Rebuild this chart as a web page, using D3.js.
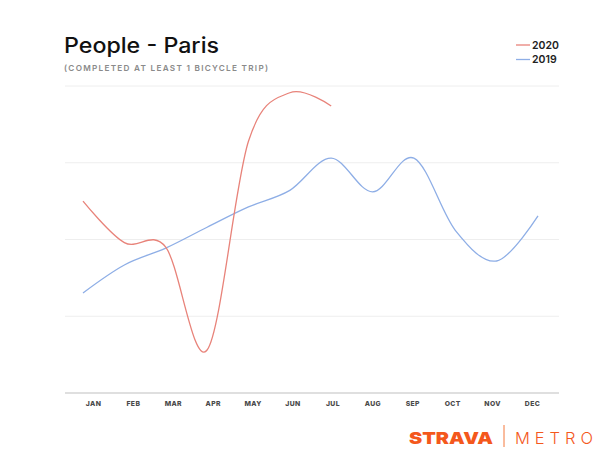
<!DOCTYPE html>
<html>
<head>
<meta charset="utf-8">
<script src="https://cdn.jsdelivr.net/npm/d3@7"></script>
<style>
  html, body { margin: 0; padding: 0; background: #fff; }
  svg { display: block; }
</style>
</head>
<body>
<svg id="chart" width="597" height="462"></svg>
<script>
const months = ["JAN","FEB","MAR","APR","MAY","JUN","JUL","AUG","SEP","OCT","NOV","DEC"];
const series2020 = [62.5, 49.0, 47.5, 14.0, 82.0, 97.8, 93.5];
const series2019 = [32.6, 41.7, 47.2, 54.0, 60.6, 66.0, 76.5, 65.5, 76.5, 53.0, 43.0, 57.7];
const gridTicks = [0, 25, 50, 75, 100];
const legendLabels = ["2020", "2019"];
const title = "People - Paris";
const subtitle = "(COMPLETED AT LEAST 1 BICYCLE TRIP)";

const svg = d3.select("#chart");
const colors = { "2020": "#e8837a", "2019": "#8eaee6" };
const FONT = "Inter, 'DejaVu Sans', sans-serif";

const xData = d3.scalePoint().domain(months).range([83, 538]);
const xLabel = d3.scalePoint().domain(months).range([93, 532]);
const y = d3.scaleLinear().domain([0, 100]).range([393, 86]);

// gridlines
svg.append("g").selectAll("line").data(gridTicks).join("line")
  .attr("x1", 65).attr("x2", 559)
  .attr("y1", d => y(d)).attr("y2", d => y(d))
  .attr("stroke", d => d === 0 ? "#d4d4d4" : "#eeeeee")
  .attr("stroke-width", d => d === 0 ? 1.5 : 1);

// x axis labels
const xAxis = d3.axisBottom(xLabel).tickSize(0).tickPadding(0);
const gx = svg.append("g").attr("transform", "translate(0,401)").call(xAxis);
gx.select(".domain").remove();
gx.selectAll("text")
  .attr("font-family", FONT)
  .attr("font-size", 6.8).attr("font-weight", 800)
  .attr("fill", "#4a4a4a").attr("letter-spacing", 0.4);

const line = d3.line()
  .x((d, i) => xData(months[i]))
  .y(d => y(d))
  .curve(d3.curveCardinal.tension(0));

svg.append("path").datum(series2019)
  .attr("d", line).attr("fill", "none")
  .attr("stroke", colors["2019"]).attr("stroke-width", 1.3);
svg.append("path").datum(series2020)
  .attr("d", line).attr("fill", "none")
  .attr("stroke", colors["2020"]).attr("stroke-width", 1.3);

// title
svg.append("text").attr("x", 64).attr("y", 53)
  .attr("font-family", FONT)
  .attr("font-size", 21).attr("font-weight", 500).attr("fill", "#111")
  .attr("textLength", 155).attr("lengthAdjust", "spacingAndGlyphs")
  .text(title);
svg.append("text").attr("x", 64).attr("y", 71)
  .attr("font-family", FONT)
  .attr("font-size", 8.2).attr("font-weight", 600).attr("fill", "#8a8a8a")
  .attr("textLength", 204).attr("lengthAdjust", "spacing")
  .text(subtitle);

// legend
const lg = svg.append("g");
legendLabels.forEach((lab, i) => {
  const yy = 45 + i * 14.5;
  lg.append("line").attr("x1", 516).attr("x2", 530).attr("y1", yy).attr("y2", yy)
    .attr("stroke", colors[lab]).attr("stroke-width", 1.3);
  lg.append("text").attr("x", 532).attr("y", yy + 3.8)
    .attr("font-family", FONT)
    .attr("font-size", 10.5).attr("font-weight", 600).attr("fill", "#222")
    .text(lab);
});

// logo
svg.append("text").attr("x", 409).attr("y", 444)
  .attr("font-family", FONT)
  .attr("font-size", 16.5).attr("font-weight", 900).attr("fill", "#f4581c")
  .attr("textLength", 84).attr("lengthAdjust", "spacingAndGlyphs")
  .text("STRAVA");
svg.append("line").attr("x1", 504).attr("x2", 504).attr("y1", 425).attr("y2", 447)
  .attr("stroke", "#f4783c").attr("stroke-width", 1);
svg.append("text").attr("x", 515).attr("y", 444)
  .attr("font-family", FONT)
  .attr("font-size", 16.5).attr("font-weight", 300).attr("fill", "#f4581c")
  .attr("textLength", 78).attr("lengthAdjust", "spacing")
  .text("METRO");
</script>
</body>
</html>
